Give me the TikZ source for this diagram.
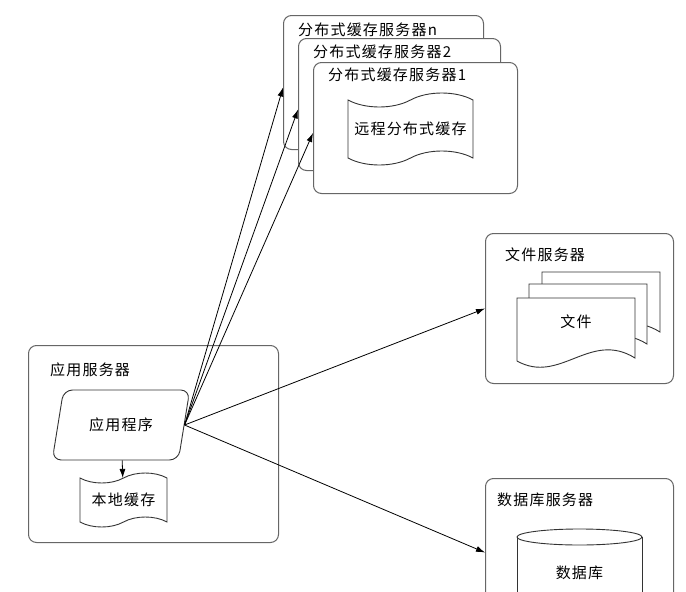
\documentclass[tikz,border=0pt]{standalone}
\usepackage{fontspec}
\setmainfont{Noto Sans CJK SC}[LetterSpace=8]
\usetikzlibrary{shapes.geometric,shapes.symbols,arrows.meta}

\tikzset{
	srvbox/.style={draw=black!60, line width=1pt, rounded corners=8pt, fill=white,
		anchor=north west, inner sep=0pt},
	srvlbl/.style={anchor=west, inner sep=0pt},
	tapebox/.style={tape, draw=black!80, line width=0.9pt, fill=white, inner sep=0pt},
	docline/.style={draw=black!80, line width=0.9pt, fill=white},
	conn/.style={-{Latex[length=9pt,width=6pt]}, line width=0.8pt}
}

\begin{document}
\begin{tikzpicture}[x=1pt, y=-1pt, font=\fontsize{15}{18}\selectfont]
	\path[use as bounding box, fill=white] (0,0) rectangle (686,592);
	\clip (0,0) rectangle (686,592);
	% cache servers, back to front
	\node[srvbox, minimum width=200, minimum height=134] (cachen) at (283,15) {};
	\node[srvlbl] (cachenlbl) at ([xshift=15pt,yshift=-15pt]cachen.north west) {分布式缓存服务器n};
	\node[srvbox, minimum width=202, minimum height=132] (cache2) at (298,38) {};
	\node[srvlbl] (cache2lbl) at ([xshift=15pt,yshift=-14pt]cache2.north west) {分布式缓存服务器2};
	\node[srvbox, minimum width=204, minimum height=131] (cache1) at (313,62) {};
	\node[srvlbl] (cache1lbl) at ([xshift=15pt,yshift=-13pt]cache1.north west) {分布式缓存服务器1};
	\node[tapebox, tape bend height=14pt, minimum width=125, minimum height=72] (remote) at (410.5,129) {远程分布式缓存};
	% application server
	\node[srvbox, minimum width=250, minimum height=197] (appsrv) at (28,345) {};
	\node[srvlbl] (appsrvlbl) at ([xshift=22pt,yshift=-25pt]appsrv.north west) {应用服务器};
	\node[trapezium, trapezium left angle=66, trapezium right angle=114, trapezium stretches=true,
		draw=black!80, line width=0.9pt, rounded corners=9pt, minimum width=138, minimum height=70,
		inner sep=0pt] (app) at (121,425) {应用程序};
	\node[tapebox, tape bend height=10pt, minimum width=87, minimum height=54] (local) at (123.5,500) {本地缓存};
	% file server
	\node[srvbox, minimum width=188, minimum height=150] (filesrv) at (485,233) {};
	\node[srvlbl] (filesrvlbl) at ([xshift=20pt,yshift=-22pt]filesrv.north west) {文件服务器};
	\foreach \dx/\dy in {25/-26,12/-14,0/0}
		\draw[docline, shift={(\dx,\dy)}] (517,361) -- (517,298) -- (635,298) -- (635,358)
			.. controls (590,330) and (560,385) .. (517,361);
	\node (file) at (576,322) {文件};
	% database server
	\node[srvbox, minimum width=188, minimum height=148] (dbsrv) at (485,478) {};
	\node[srvlbl] (dbsrvlbl) at ([xshift=12pt,yshift=-22pt]dbsrv.north west) {数据库服务器};
	\draw[docline] (517,537) -- (517,640) -- (642,640) -- (642,537);
	\draw[docline] (579.5,537) ellipse [x radius=62.5, y radius=8];
	\node (db) at (579.5,573) {数据库};
	% connectors
	\draw[conn] (app) -- (local);
	\draw[conn] (app.east) -- ([yshift=-5pt]cachen.west);
	\draw[conn] (app.east) -- ([yshift=-5pt]cache2.west);
	\draw[conn] (app.east) -- ([yshift=-5pt]cache1.west);
	\draw[conn] (app.east) -- (filesrv.west);
	\draw[conn] (app.east) -- (dbsrv.west);
\end{tikzpicture}
\end{document}
